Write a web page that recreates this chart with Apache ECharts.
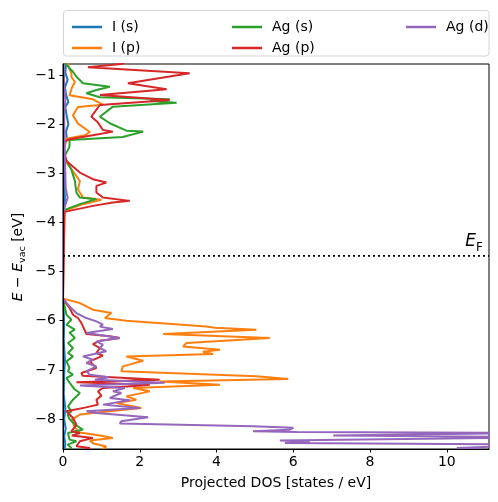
<!DOCTYPE html>
<html>
<head>
<meta charset="utf-8">
<script src="https://cdn.jsdelivr.net/npm/echarts@6/dist/echarts.min.js"></script>
<style>html,body{margin:0;padding:0;background:#fff}#c{width:498px;height:502px}</style>
</head>
<body>
<div id="c"></div>
<script>
// Each series: [energy (eV), projected DOS (states/eV)]
const seriesNames = ['I (s)', 'I (p)', 'Ag (s)', 'Ag (p)', 'Ag (d)'];
const fermiLevel = -4.68;
const xTicks = [0, 2, 4, 6, 8, 10];
const yTicks = [-8, -7, -6, -5, -4, -3, -2, -1];

const I_s = [[-0.75,0.08],[-0.95,0.06],[-1.1,0.12],[-1.25,0.05],[-1.4,0.08],[-1.55,0.14],[-1.65,0.06],[-1.85,0.1],[-2.0,0.14],[-2.15,0.08],[-2.3,0.1],[-2.45,0.03],[-2.7,0.02],[-3.0,0.03],[-3.3,0.04],[-3.55,0.05],[-3.7,0.03],[-3.8,0],[-5.57,0],[-5.8,0.02],[-6.1,0.03],[-6.4,0.02],[-6.8,0.05],[-7.1,0.03],[-7.5,0.02],[-7.8,0.06],[-8.0,0.03],[-8.2,0.07],[-8.35,0.03],[-8.5,0.06],[-8.62,0.04]];

const I_p = [[-0.75,0.12],[-0.797,0.13],[-0.965,0.22],[-1.04,0.22],[-1.142,0.31],[-1.264,0.23],[-1.413,0.17],[-1.494,0.78],[-1.604,1.04],[-1.65,0.39],[-1.819,0.26],[-1.99,0.39],[-2.159,0.70],[-2.226,0.57],[-2.295,0.09],[-2.524,0.02],[-2.728,0.04],[-2.917,0.22],[-3.154,0.44],[-3.323,0.39],[-3.494,0.52],[-3.54,1.0],[-3.628,0.52],[-3.764,0.04],[-3.8,0],
  [-5.55,0],[-5.573,0.04],[-5.64,0.44],[-5.776,0.78],[-5.843,1.26],[-5.945,1.09],[-6.0,1.65],[-6.116,3.74],[-6.142,3.96],[-6.183,5.04],[-6.27,2.61],[-6.352,5.39],[-6.453,3.22],[-6.522,3.13],[-6.589,4.09],[-6.63,3.64],[-6.677,3.91],[-6.726,1.65],[-6.813,2.09],[-6.929,1.56],[-7.03,1.52],[-7.132,5.04],[-7.185,5.87],[-7.234,2.52],[-7.301,4.09],[-7.368,1.83],[-7.437,2.26],[-7.539,1.65],[-7.606,1.91],[-7.673,1.39],[-7.774,2.04],[-7.843,1.22],[-7.91,0.44],[-8.012,0.23],[-8.175,0.31],[-8.276,0.44],[-8.337,0.96],[-8.384,1.30],[-8.439,0.70],[-8.5,0.8],[-8.561,1.13],[-8.62,1.0]];

const Ag_s = [[-0.75,0.05],[-0.797,0.09],[-0.933,0.26],[-1.035,0.35],[-1.169,0.52],[-1.238,1.22],[-1.305,0.87],[-1.372,0.61],[-1.453,0.96],[-1.494,2.78],[-1.528,2.26],[-1.563,2.96],[-1.644,1.30],[-1.848,0.96],[-1.982,1.22],[-2.132,1.65],[-2.152,2.09],[-2.26,1.56],[-2.321,0.17],[-2.457,0.17],[-2.66,0.04],[-2.931,0.22],[-3.154,0.31],[-3.392,0.35],[-3.494,0.44],[-3.526,0.87],[-3.56,0.88],[-3.628,0.44],[-3.744,0.04],[-3.8,0],
  [-5.55,0],[-5.573,0.04],[-5.878,0.09],[-5.98,0.22],[-6.081,0.09],[-6.183,0.31],[-6.24,0.17],[-6.352,0.31],[-6.453,0.13],[-6.555,0.26],[-6.657,0.13],[-6.726,0.26],[-6.827,0.09],[-6.961,0.17],[-7.03,0.13],[-7.098,0.26],[-7.165,0.09],[-7.26,0.17],[-7.4,0.31],[-7.47,0.44],[-7.606,0.26],[-7.742,0.13],[-7.843,0.22],[-7.91,0.12],[-8.0,0.17],[-8.114,0.31],[-8.215,0.52],[-8.283,0.13],[-8.419,0.17],[-8.453,0.35],[-8.52,0.12],[-8.588,0.22],[-8.62,0.15]];

const Ag_p = [[-0.75,1.6],[-0.776,1.52],[-0.843,0.65],[-0.965,3.30],[-1.169,1.69],[-1.291,2.70],[-1.407,0.96],[-1.508,2.78],[-1.61,0.96],[-1.848,0.74],[-1.955,0.90],[-2.118,1.04],[-2.152,1.30],[-2.2,0.96],[-2.307,0.17],[-2.356,0.04],[-2.52,0.02],[-2.748,0.09],[-2.986,0.44],[-3.12,0.78],[-3.189,1.13],[-3.256,0.87],[-3.392,0.87],[-3.494,1.04],[-3.561,1.74],[-3.596,1.30],[-3.663,0.78],[-3.785,0.04],[-3.8,0],
  [-5.55,0],[-5.608,0.04],[-5.736,0.17],[-5.878,0.26],[-5.945,0.39],[-6.047,0.48],[-6.116,0.52],[-6.27,0.61],[-6.315,1.22],[-6.352,1.48],[-6.406,0.96],[-6.474,0.78],[-6.555,0.96],[-6.657,0.87],[-6.71,1.04],[-6.827,0.70],[-6.961,0.87],[-7.063,0.48],[-7.118,0.51],[-7.199,2.52],[-7.254,0.35],[-7.301,2.26],[-7.33,1.87],[-7.368,1.04],[-7.437,0.91],[-7.524,1.0],[-7.606,0.87],[-7.707,0.91],[-7.768,0.57],[-7.843,0.09],[-7.978,0.26],[-8.114,0.35],[-8.25,0.22],[-8.283,0.44],[-8.337,0.23],[-8.384,0.78],[-8.453,0.44],[-8.555,0.35],[-8.588,0.70],[-8.62,0.6]];

const Ag_d = [[-0.75,0.02],[-1.2,0.03],[-1.5,0.06],[-1.8,0.03],[-2.3,0.04],[-2.7,0.05],[-3.0,0.06],[-3.3,0.07],[-3.5,0.12],[-3.6,0.08],[-3.75,0.02],[-3.8,0],
  [-5.55,0],[-5.573,0.04],[-5.71,0.17],[-5.843,0.35],[-5.933,0.57],[-6.014,0.87],[-6.081,1.04],[-6.12,0.96],[-6.169,1.30],[-6.25,0.61],[-6.319,1.22],[-6.352,1.48],[-6.421,0.87],[-6.488,1.04],[-6.555,0.96],[-6.622,1.13],[-6.726,0.52],[-6.793,0.78],[-6.86,0.61],[-6.929,0.87],[-7.03,0.61],[-7.098,0.70],[-7.15,1.2],[-7.2,0.83],[-7.26,2.65],[-7.32,0.44],[-7.368,1.61],[-7.437,1.30],[-7.47,1.52],[-7.57,1.22],[-7.62,1.74],[-7.707,1.04],[-7.774,2.0],[-7.843,0.61],[-7.876,0.87],[-7.965,2.22],[-8.046,1.52],[-8.093,1.48],[-8.148,4.95],[-8.18,6.0],[-8.22,5.9],[-8.25,4.95],[-8.266,6.09],[-8.283,12.5],[-8.337,7.04],[-8.37,12.5],[-8.439,5.65],[-8.46,6.43],[-8.486,5.78],[-8.52,12.5],[-8.588,10.26],[-8.62,11]];

const seriesData = [I_s, I_p, Ag_s, Ag_p, Ag_d];
const colors = ['#1f77b4', '#ff7f0e', '#2ca02c', '#d62728', '#9467bd'];
const FONT = 'DejaVu Sans';
const FS = 14;
const xMax = 11.1, yMin = -8.61, yMax = -0.776;
const minus = v => (v < 0 ? '\u2212' + Math.abs(v) : String(v));

const chart = echarts.init(document.getElementById('c'), null, {renderer: 'canvas'});

const series = seriesNames.map((name, i) => ({
  name, type: 'line', showSymbol: false, symbol: 'none', clip: true,
  data: seriesData[i].map(([e, d]) => [d, e]),
  lineStyle: {color: colors[i], width: 2},
  itemStyle: {color: colors[i]},
  animation: false,
  z: 2 + i
}));
series.push({
  name: 'EF', type: 'line', showSymbol: false, symbol: 'none', animation: false, silent: true,
  data: [[0, fermiLevel], [xMax, fermiLevel]],
  lineStyle: {color: '#000', width: 1.8, type: [2, 3]}, z: 8
});

const legendCommon = {
  orient: 'vertical', icon: 'rect', itemWidth: 30, itemHeight: 2.5, itemGap: 5,
  textStyle: {fontFamily: FONT, fontSize: FS, color: '#000', lineHeight: 16, padding: [0, 0, 0, 5]},
  selectedMode: false
};

chart.setOption({
  animation: false,
  color: colors,
  grid: {left: 63, right: 9, top: 64, bottom: 53, show: true, borderColor: '#000', borderWidth: 1, backgroundColor: 'transparent'},
  legend: [
    Object.assign({left: 67, top: 14, data: ['I (s)', 'I (p)']}, legendCommon),
    Object.assign({left: 227, top: 14, data: ['Ag (s)', 'Ag (p)']}, legendCommon),
    Object.assign({left: 401, top: 14, data: ['Ag (d)']}, legendCommon)
  ],
  xAxis: {
    type: 'value', min: 0, max: xMax, z: 20,
    name: 'Projected DOS [states / eV]', nameLocation: 'middle', nameGap: 27,
    nameTextStyle: {fontFamily: FONT, fontSize: FS, color: '#000'},
    axisLine: {show: true, onZero: false, lineStyle: {color: '#000', width: 1}},
    axisTick: {show: true, inside: false, length: 3.5, lineStyle: {color: '#000'}, customValues: xTicks},
    axisLabel: {fontFamily: FONT, fontSize: FS, color: '#000', margin: 6, customValues: xTicks, formatter: minus},
    splitLine: {show: false}
  },
  yAxis: {
    type: 'value', min: yMin, max: yMax, z: 20,
    axisLine: {show: true, onZero: false, lineStyle: {color: '#000', width: 1}},
    axisTick: {show: true, inside: false, length: 3.5, lineStyle: {color: '#000'}, customValues: yTicks},
    axisLabel: {fontFamily: FONT, fontSize: FS, color: '#000', margin: 7, customValues: yTicks, formatter: minus},
    splitLine: {show: false}
  },
  series
});

const yF = chart.convertToPixel({yAxisIndex: 0}, fermiLevel);
chart.setOption({
  graphic: [
    {type: 'rect', shape: {x: 63.5, y: 10.5, width: 425.5, height: 45.5, r: 3},
     style: {fill: 'rgba(255,255,255,0.8)', stroke: '#d4d4d4', lineWidth: 1}, z: 0, silent: true},
    {type: 'text', x: 18, y: 257, rotation: Math.PI / 2,
     style: {text: '{i|E} \u2212 {i|E}{s|vac} [eV]', fontFamily: FONT, fontSize: FS, fill: '#000', align: 'center', verticalAlign: 'middle',
       rich: {i: {fontFamily: FONT, fontStyle: 'italic', fontSize: FS, lineHeight: 20, verticalAlign: 'middle'},
              s: {fontFamily: FONT, fontSize: 9.5, lineHeight: 20, verticalAlign: 'bottom'}}}},
    {type: 'text', x: 483, y: yF - 2,
     style: {text: '{i|E}{s|F}', fontFamily: FONT, fontSize: 17, fill: '#000', align: 'right', verticalAlign: 'bottom',
       rich: {i: {fontFamily: FONT, fontStyle: 'italic', fontSize: 17, lineHeight: 24, verticalAlign: 'middle'},
              s: {fontFamily: FONT, fontSize: 12, lineHeight: 24, verticalAlign: 'bottom'}}}}
  ]
});
</script>
</body>
</html>
